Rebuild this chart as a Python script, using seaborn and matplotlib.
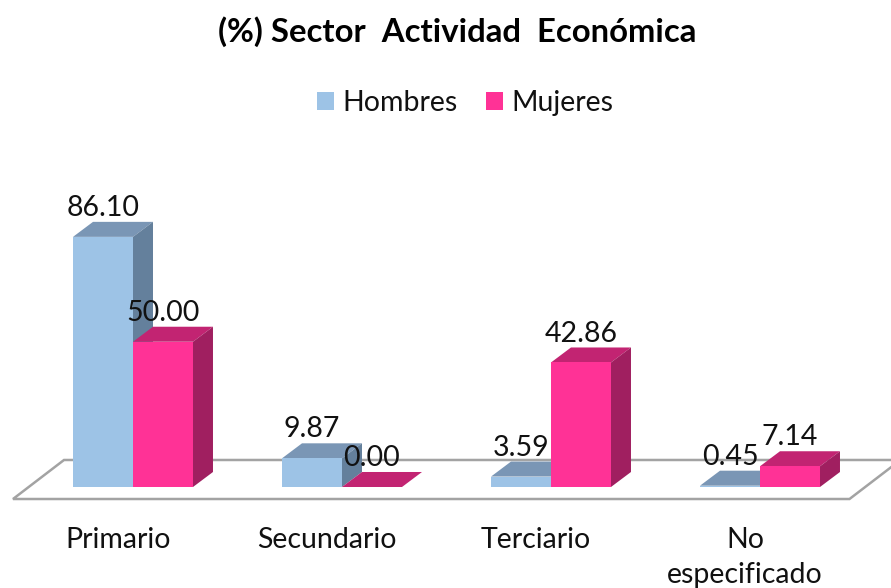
import matplotlib
matplotlib.use('Agg')
import matplotlib.pyplot as plt
import matplotlib.transforms as mtrans
import pandas as pd
import seaborn as sns
from matplotlib.patches import Polygon

sectores = ['Primario', 'Secundario', 'Terciario', 'No\nespecificado']
hombres = [86.10, 9.87, 3.59, 0.45]
mujeres = [50.00, 0.00, 42.86, 7.14]

sns.set_theme(style='white')
plt.rcParams['font.family'] = ['Lato', 'DejaVu Sans']

df = pd.DataFrame({
    'sector': sectores * 2,
    'sexo': ['Hombres'] * 4 + ['Mujeres'] * 4,
    'valor': hombres + mujeres,
})

fig = plt.figure(figsize=(8.91, 5.88), dpi=100)
ax = fig.add_axes([28.5 / 891, 101 / 588, 836 / 891, 337 / 588])
sns.barplot(data=df, x='sector', y='valor', hue='sexo', palette=['#9dc3e6', '#ff3296'],
            width=0.574, gap=0, saturation=1, linewidth=0, ax=ax)
ax.set_xlim(-0.5, 3.5)
ax.set_ylim(0, 116)
ax.set_xlabel('')
ax.set_ylabel('')
ax.set_yticks([])
ax.tick_params(axis='x', length=0, pad=28.5, labelsize=20.5, colors='#111111')
sns.despine(ax=ax, left=True, bottom=True)

# labels sit a bit left of the group centre in the original
shift = mtrans.ScaledTranslation(-15 / 100, 0, fig.dpi_scale_trans)
for t in ax.get_xticklabels():
    t.set_transform(t.get_transform() + shift)
    t.set_linespacing(1.47)
    t.set_verticalalignment('top')

# pixels to data units
px_x = 1 / 209
px_y = 1 / 2.904
dx = 20 * px_x
dy = 15 * px_y

# floor
floor = Polygon([(-0.5 - 15.5 * px_x, -12 * px_y), (-0.5 + 35.5 * px_x, 27 * px_y),
                 (3.5 + 36 * px_x, 27 * px_y), (3.5 - 15 * px_x, -12 * px_y)],
                closed=True, fc='white', ec='#a3a3a3', lw=1.8, clip_on=False, zorder=0.5)
ax.add_patch(floor)

# fake 3d faces, built from the bars seaborn drew
tops = ['#7a96b5', '#c22472']
sides = ['#64809c', '#a01f60']
for i, cont in enumerate(ax.containers):
    z = 2 + i * 2
    for bar in cont:
        x0, y0 = bar.get_x(), bar.get_y()
        w, h = bar.get_width(), bar.get_height()
        bar.set_zorder(z + 1)
        ax.add_patch(Polygon([(x0, y0 + h), (x0 + dx, y0 + h + dy), (x0 + w + dx, y0 + h + dy), (x0 + w, y0 + h)],
                             closed=True, fc=tops[i], ec='none', clip_on=False, zorder=z))
        ax.add_patch(Polygon([(x0 + w, y0), (x0 + w + dx, y0 + dy), (x0 + w + dx, y0 + h + dy), (x0 + w, y0 + h)],
                             closed=True, fc=sides[i], ec='none', clip_on=False, zorder=z))
    labels = ax.bar_label(cont, fmt='%.2f', padding=11.5, fontsize=20.5, color='#111111')
    for t in labels:
        t.set_zorder(10)

sns.move_legend(ax, 'center', bbox_to_anchor=(465 / 891, 1 - 103 / 588),
                bbox_transform=fig.transFigure, ncol=2, title=None, frameon=False,
                fontsize=20.5, handlelength=0.6, handleheight=0.6, handletextpad=0.3,
                columnspacing=1.0)
for t in ax.get_legend().get_texts():
    t.set_color('#111111')

fig.text(457 / 891, 1 - 32 / 588, '(%) Sector  Actividad  Económica', ha='center', va='center',
         fontsize=23.7, fontweight='bold', color='black')

fig.savefig('out.png', dpi=100)
